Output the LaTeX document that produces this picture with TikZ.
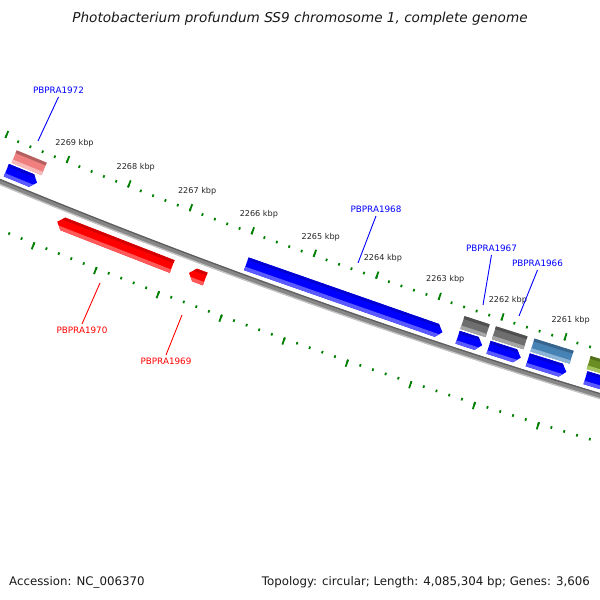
\documentclass[tikz,border=0pt]{standalone}
\usepackage{fontspec}
\usepackage{xfp}
\setmainfont{DejaVu Sans}
\definecolor{tickgreen}{RGB}{0,128,0}
\definecolor{blubody}{RGB}{0,0,255}
\definecolor{blutop}{RGB}{0,0,210}
\definecolor{blubot}{RGB}{90,90,255}
\definecolor{redbody}{RGB}{255,0,0}
\definecolor{redtop}{RGB}{210,0,0}
\definecolor{redbot}{RGB}{255,90,90}
\definecolor{pnkbody}{RGB}{240,128,128}
\definecolor{pnktop}{RGB}{180,96,96}
\definecolor{pnkbot}{RGB}{248,185,185}
\definecolor{grybody}{RGB}{110,110,110}
\definecolor{grytop}{RGB}{80,80,80}
\definecolor{grybot}{RGB}{165,165,165}
\definecolor{stlbody}{RGB}{70,130,180}
\definecolor{stltop}{RGB}{55,100,140}
\definecolor{stlbot}{RGB}{140,180,215}
\definecolor{olvbody}{RGB}{107,142,35}
\definecolor{olvtop}{RGB}{85,112,28}
\definecolor{olvbot}{RGB}{165,195,95}
\definecolor{bbmain}{RGB}{135,135,135}
\definecolor{bbdark}{RGB}{95,95,95}
\definecolor{bblight}{RGB}{195,195,195}
\newcommand\Cx{2456}
\newcommand\Cy{6353}
% point on the circular map: #1 name, #2 position in kbp, #3 radius
\newcommand\gp[3]{%
  \edef\gpx{\fpeval{round(\Cx+(#3)*cosd(250.38+(2265-(#2))*0.5934),3)}}%
  \edef\gpy{\fpeval{round(\Cy+(#3)*sind(250.38+(2265-(#2))*0.5934),3)}}%
  \coordinate (#1) at (\gpx,\gpy);}
\newcommand\bandfill[5]{%
  \gp{q1}{#1}{#3}\gp{q2}{#2}{#3}\gp{q3}{#2}{#4}\gp{q4}{#1}{#4}%
  \fill[#5] (q1)--(q2)--(q3)--(q4)--cycle;}
\newcommand\fillbands[5]{%
  \bandfill{#1+0.2}{#2-0.2}{#3-1}{#4+1}{#5body}%
  \bandfill{#1+0.2}{#2-0.2}{#3-1}{#3+3}{#5top}%
  \bandfill{#1+0.2}{#2-0.2}{#4-3.5}{#4+1}{#5bot}}
% arrow pointing right (towards lower kbp)
\newcommand\arrR[5]{%
  \gp{s1}{#1}{#3}\gp{s2}{#2+0.09}{#3}\gp{s3}{#2}{(#3+#4)/2}\gp{s4}{#2+0.09}{#4}\gp{s5}{#1}{#4}%
  \begin{scope}\clip (s1)--(s2)--(s3)--(s4)--(s5)--cycle;\fillbands{#1}{#2}{#3}{#4}{#5}\end{scope}}
% arrow pointing left (towards higher kbp)
\newcommand\arrL[5]{%
  \gp{s1}{#1}{(#3+#4)/2}\gp{s2}{#1-0.09}{#3}\gp{s3}{#2}{#3}\gp{s4}{#2}{#4}\gp{s5}{#1-0.09}{#4}%
  \begin{scope}\clip (s1)--(s2)--(s3)--(s4)--(s5)--cycle;\fillbands{#1}{#2}{#3}{#4}{#5}\end{scope}}
\newcommand\cogbox[5]{%
  \gp{s1}{#1}{#3}\gp{s2}{#2}{#3}\gp{s3}{#2}{#4}\gp{s4}{#1}{#4}%
  \begin{scope}\clip (s1)--(s2)--(s3)--(s4)--cycle;\fillbands{#1}{#2}{#3}{#4}{#5}\end{scope}}
\begin{document}
\begin{tikzpicture}[x=1pt,y=1pt,
  tk/.style={tickgreen, line width=1.8pt},
  kbl/.style={font=\fontsize{8.1}{9}\selectfont, text=black!85, inner sep=0pt},
  blab/.style={font=\fontsize{8.8}{10}\selectfont, text=blue, inner sep=3pt},
  rlab/.style={font=\fontsize{8.8}{10}\selectfont, text=red, inner sep=3pt},
  bline/.style={blue, line width=0.9pt},
  rline/.style={red, line width=0.9pt},
  foot/.style={font=\fontsize{11.8}{14}\selectfont, text=black!90, inner sep=0pt}]
\fill[white, use as bounding box] (0,0) rectangle (600,600);
\clip (0,0) rectangle (600,600);

% backbone
\foreach \i in {0,...,28}{%
  \edef\kk{\fpeval{2272-0.5*\i}}%
  \gp{bb\i}{\kk}{6423}\gp{bd\i}{\kk}{6420.8}\gp{bl\i}{\kk}{6425.5}}
\draw[bbmain, line width=5.5pt] (bb0) \foreach \i in {1,...,28}{ -- (bb\i)};
\draw[bbdark, line width=1.3pt] (bd0) \foreach \i in {1,...,28}{ -- (bd\i)};
\draw[bblight, line width=1.3pt] (bl0) \foreach \i in {1,...,28}{ -- (bl\i)};

% ticks
\foreach \i in {0,...,65}{%
  \edef\kk{\fpeval{2271.4-0.2*\i}}%
  \gp{ua}{\kk}{6377.6}\gp{ub}{\kk}{6380.2}\draw[tk] (ua) -- (ub);
  \gp{la}{\kk}{6466}\gp{lb}{\kk}{6468.6}\draw[tk] (la) -- (lb);}
\foreach \kk in {2258,...,2271}{%
  \gp{ua}{\kk}{6372.8}\gp{ub}{\kk}{6380.2}\draw[tk] (ua) -- (ub);
  \gp{la}{\kk}{6466}\gp{lb}{\kk}{6473.4}\draw[tk] (la) -- (lb);}
\foreach \kk in {2261,...,2269}{%
  \gp{kl\kk}{\kk}{6359}\node[kbl] (lab\kk) at (kl\kk) {\kk\ kbp};}

% COG boxes (inner track)
\cogbox{2269.77}{2269.28}{6387.5}{6401}{pnk}
\cogbox{2262.55}{2262.15}{6387.5}{6401}{gry}
\cogbox{2262.05}{2261.55}{6387.5}{6401}{gry}
\cogbox{2261.44}{2260.82}{6387.5}{6401}{stl}
\cogbox{2260.55}{2259.3}{6387.5}{6401}{olv}

% reverse strand genes
\arrR{2269.80}{2269.30}{6403}{6416.5}{blu}
\arrR{2265.92}{2262.79}{6403}{6416.5}{blu}
\arrR{2262.55}{2262.16}{6403}{6416.5}{blu}
\arrR{2262.06}{2261.55}{6403}{6416.5}{blu}
\arrR{2261.44}{2260.83}{6403}{6416.5}{blu}
\arrR{2260.53}{2259.3}{6403}{6416.5}{blu}

% forward strand genes
\arrL{2268.80}{2266.95}{6431.5}{6445}{red}
\arrL{2266.68}{2266.42}{6431.5}{6445}{red}

% gene labels
\coordinate (g1972) at (38,459);
\node[blab, anchor=south] (n1972) at (58.5,503) {PBPRA1972};
\draw[bline] (g1972) -- (n1972.south);
\coordinate (g1968) at (358,337);
\node[blab, anchor=south] (n1968) at (376,384) {PBPRA1968};
\draw[bline] (g1968) -- (n1968.south);
\coordinate (g1967) at (483,295);
\node[blab, anchor=south] (n1967) at (491.5,345) {PBPRA1967};
\draw[bline] (g1967) -- (n1967.south);
\coordinate (g1966) at (519,284);
\node[blab, anchor=south] (n1966) at (537.5,330) {PBPRA1966};
\draw[bline] (g1966) -- (n1966.south);
\coordinate (g1970) at (100,317);
\node[rlab, anchor=north] (n1970) at (82,276) {PBPRA1970};
\draw[rline] (g1970) -- (n1970.north);
\coordinate (g1969) at (182,285);
\node[rlab, anchor=north] (n1969) at (166,245) {PBPRA1969};
\draw[rline] (g1969) -- (n1969.north);

% title and footer
\node[font=\fontsize{13.6}{16}\selectfont\itshape, text=black!90, anchor=base, inner sep=0pt] (title) at (300,577) {Photobacterium profundum SS9 chromosome 1, complete genome};
\node[foot, anchor=base west] (acc) at (9,14) {Accession: NC\_006370};
\node[foot, anchor=base east] (topo) at (590,14) {Topology: circular; Length: 4,085,304 bp; Genes: 3,606};
\end{tikzpicture}
\end{document}
